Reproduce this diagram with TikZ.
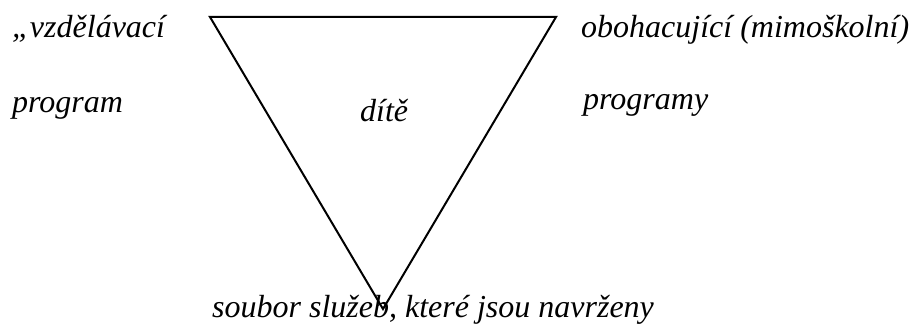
\documentclass[tikz,border=0pt]{standalone}
\usepackage{fontspec}
\setmainfont{Liberation Serif}
\begin{document}
\begin{tikzpicture}[x=1pt,y=-1pt,
  lbl/.style={anchor=base west,inner sep=0pt,font=\fontsize{32}{36}\selectfont\itshape}]
\useasboundingbox (0,0) rectangle (910,329);
\coordinate (tl) at (210,17);
\coordinate (tr) at (556,17);
\coordinate (bt) at (383,309);
\draw[line width=2pt,line join=miter] (tl) -- (tr) -- (bt) -- cycle;
\node[lbl] (a) at (12,38) {„vzdělávací};
\node[lbl] (b) at (12,112) {program};
\node[lbl] (c) at (360,121) {dítě};
\node[lbl] (d) at (581,38) {obohacující (mimoškolní)};
\node[lbl] (e) at (583,110) {programy};
\node[lbl] (f) at (212,317) {soubor služeb, které jsou navrženy};
\end{tikzpicture}
\end{document}
